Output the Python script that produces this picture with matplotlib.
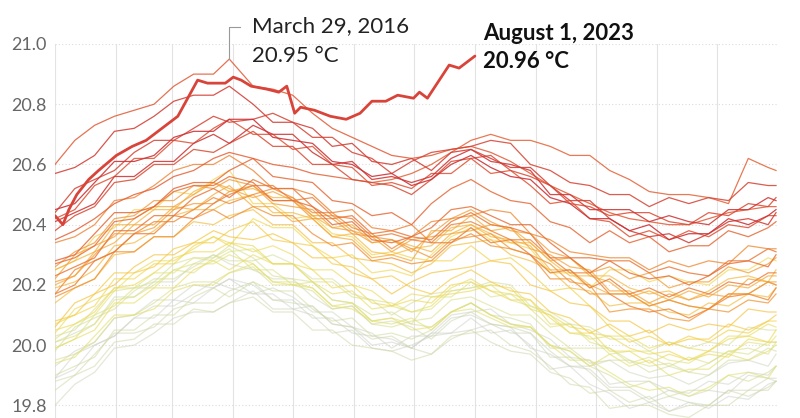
import matplotlib
matplotlib.use("Agg")
import matplotlib.pyplot as plt
from matplotlib.colors import LinearSegmentedColormap

plt.rcParams['font.family'] = ['Lato', 'DejaVu Sans']

# day of year of each sampled point of the thin yearly lines
days = [1, 11, 21, 31, 41, 51, 61, 71, 81, 89,
        101, 111, 121, 131, 141, 151, 161, 171, 181,
        191, 201, 211, 221, 231, 241, 251, 261, 271,
        281, 291, 301, 311, 321, 331, 341, 351, 361, 365]

t1979 = [19.89, 19.92, 20.00, 20.03, 20.09, 20.09, 20.15, 20.14, 20.19, 20.22, 20.17, 20.17, 20.12, 20.13, 20.07, 20.06, 20.00, 20.01, 19.99, 20.04, 20.04, 20.09, 20.04, 20.05, 20.00, 19.92, 19.93, 19.87, 19.84, 19.79, 19.81, 19.78, 19.81, 19.79, 19.83, 19.82, 19.87, 19.88]
t1980 = [19.93, 19.98, 20.01, 20.09, 20.10, 20.15, 20.15, 20.20, 20.19, 20.22, 20.20, 20.15, 20.15, 20.09, 20.09, 20.04, 20.03, 20.02, 19.99, 20.04, 20.10, 20.11, 20.12, 20.07, 20.05, 20.02, 19.96, 19.95, 19.87, 19.88, 19.88, 19.85, 19.84, 19.88, 19.87, 19.91, 19.90, 19.93]
t1981 = [19.89, 19.97, 20.00, 20.03, 20.09, 20.13, 20.13, 20.17, 20.21, 20.19, 20.17, 20.19, 20.16, 20.11, 20.11, 20.06, 20.04, 19.99, 20.03, 20.03, 20.04, 20.05, 20.07, 20.06, 19.99, 19.97, 19.93, 19.92, 19.86, 19.86, 19.82, 19.85, 19.83, 19.85, 19.84, 19.90, 19.89, 19.89]
t1982 = [19.80, 19.87, 19.91, 19.99, 20.00, 20.04, 20.09, 20.11, 20.11, 20.14, 20.18, 20.12, 20.12, 20.10, 20.04, 20.05, 19.99, 19.98, 20.00, 20.03, 20.09, 20.10, 20.07, 20.04, 20.04, 19.98, 19.93, 19.93, 19.95, 19.91, 19.89, 19.90, 19.87, 19.90, 19.94, 19.95, 19.93, 19.97]
t1983 = [20.01, 20.04, 20.07, 20.16, 20.16, 20.21, 20.21, 20.27, 20.30, 20.27, 20.25, 20.22, 20.22, 20.16, 20.12, 20.13, 20.07, 20.08, 20.06, 20.02, 20.08, 20.11, 20.07, 20.06, 20.04, 19.96, 19.96, 19.91, 19.85, 19.85, 19.81, 19.83, 19.81, 19.80, 19.85, 19.85, 19.89, 19.88]
t1984 = [19.88, 19.90, 19.97, 20.04, 20.04, 20.06, 20.12, 20.14, 20.14, 20.18, 20.21, 20.15, 20.14, 20.13, 20.07, 20.06, 20.02, 20.03, 19.99, 19.97, 20.02, 20.05, 20.01, 19.98, 19.97, 19.91, 19.89, 19.84, 19.85, 19.81, 19.83, 19.78, 19.80, 19.80, 19.85, 19.83, 19.86, 19.88]
t1985 = [19.85, 19.90, 19.93, 20.01, 20.02, 20.07, 20.07, 20.12, 20.11, 20.14, 20.16, 20.11, 20.11, 20.05, 20.05, 20.00, 19.99, 19.98, 19.95, 19.97, 20.03, 20.04, 20.05, 20.00, 19.98, 19.93, 19.87, 19.86, 19.79, 19.80, 19.80, 19.77, 19.76, 19.80, 19.80, 19.85, 19.85, 19.88]
t1986 = [19.90, 19.93, 19.96, 20.05, 20.05, 20.10, 20.10, 20.16, 20.19, 20.16, 20.21, 20.18, 20.18, 20.12, 20.08, 20.09, 20.03, 20.04, 20.02, 20.05, 20.11, 20.14, 20.10, 20.09, 20.07, 19.99, 19.99, 19.94, 19.95, 19.95, 19.91, 19.93, 19.91, 19.90, 19.95, 19.95, 19.99, 19.98]
t1987 = [19.98, 20.06, 20.09, 20.12, 20.18, 20.22, 20.22, 20.26, 20.30, 20.28, 20.28, 20.30, 20.27, 20.22, 20.22, 20.17, 20.15, 20.10, 20.14, 20.17, 20.18, 20.19, 20.21, 20.20, 20.13, 20.11, 20.07, 20.06, 20.02, 20.02, 19.98, 20.01, 19.99, 20.01, 20.00, 20.06, 20.05, 20.05]
t1988 = [20.03, 20.05, 20.12, 20.19, 20.19, 20.21, 20.27, 20.29, 20.29, 20.33, 20.29, 20.23, 20.22, 20.21, 20.15, 20.14, 20.10, 20.11, 20.07, 20.06, 20.11, 20.14, 20.10, 20.07, 20.06, 20.00, 19.98, 19.93, 19.90, 19.86, 19.88, 19.83, 19.85, 19.85, 19.90, 19.88, 19.91, 19.93]
t1989 = [19.95, 19.97, 20.01, 20.09, 20.10, 20.14, 20.19, 20.21, 20.21, 20.24, 20.26, 20.20, 20.20, 20.18, 20.12, 20.13, 20.07, 20.06, 20.08, 20.09, 20.15, 20.16, 20.13, 20.10, 20.10, 20.04, 19.99, 19.99, 19.99, 19.95, 19.93, 19.94, 19.91, 19.94, 19.98, 19.99, 19.97, 20.01]
t1990 = [19.99, 20.02, 20.10, 20.13, 20.19, 20.19, 20.25, 20.24, 20.29, 20.32, 20.25, 20.25, 20.20, 20.21, 20.15, 20.14, 20.08, 20.09, 20.07, 20.16, 20.16, 20.21, 20.16, 20.17, 20.12, 20.06, 20.07, 20.01, 19.99, 19.94, 19.96, 19.93, 19.96, 19.94, 19.98, 19.97, 20.01, 20.01]
t1991 = [20.02, 20.07, 20.10, 20.18, 20.19, 20.24, 20.24, 20.29, 20.28, 20.31, 20.32, 20.27, 20.27, 20.21, 20.21, 20.16, 20.15, 20.14, 20.11, 20.12, 20.18, 20.19, 20.20, 20.15, 20.13, 20.10, 20.04, 20.03, 19.97, 19.98, 19.98, 19.95, 19.94, 19.98, 19.97, 20.01, 20.00, 20.03]
t1992 = [20.01, 20.03, 20.07, 20.15, 20.16, 20.20, 20.25, 20.27, 20.27, 20.30, 20.27, 20.21, 20.21, 20.19, 20.13, 20.14, 20.08, 20.07, 20.09, 20.05, 20.11, 20.12, 20.09, 20.06, 20.06, 20.00, 19.95, 19.95, 19.91, 19.87, 19.85, 19.86, 19.83, 19.86, 19.90, 19.91, 19.89, 19.93]
t1993 = [19.94, 19.96, 20.03, 20.10, 20.10, 20.12, 20.18, 20.20, 20.20, 20.24, 20.27, 20.21, 20.20, 20.19, 20.13, 20.12, 20.08, 20.09, 20.05, 20.06, 20.11, 20.14, 20.10, 20.07, 20.06, 20.00, 19.98, 19.93, 19.97, 19.93, 19.95, 19.90, 19.92, 19.92, 19.97, 19.95, 19.98, 20.00]
t1994 = [19.99, 20.02, 20.05, 20.14, 20.14, 20.19, 20.19, 20.25, 20.28, 20.25, 20.30, 20.27, 20.27, 20.21, 20.17, 20.18, 20.12, 20.13, 20.11, 20.13, 20.19, 20.22, 20.18, 20.17, 20.15, 20.07, 20.07, 20.02, 20.03, 20.03, 19.99, 20.01, 19.99, 19.98, 20.03, 20.03, 20.07, 20.06]
t1995 = [20.04, 20.12, 20.15, 20.18, 20.24, 20.28, 20.28, 20.32, 20.36, 20.34, 20.31, 20.33, 20.30, 20.25, 20.25, 20.20, 20.18, 20.13, 20.17, 20.16, 20.17, 20.18, 20.20, 20.19, 20.12, 20.10, 20.06, 20.05, 19.98, 19.98, 19.94, 19.97, 19.95, 19.97, 19.96, 20.02, 20.01, 20.01]
t1996 = [20.05, 20.07, 20.11, 20.19, 20.20, 20.24, 20.29, 20.31, 20.31, 20.34, 20.33, 20.27, 20.27, 20.25, 20.19, 20.20, 20.14, 20.13, 20.15, 20.14, 20.20, 20.21, 20.18, 20.15, 20.15, 20.09, 20.04, 20.04, 20.03, 19.99, 19.97, 19.98, 19.95, 19.98, 20.02, 20.03, 20.01, 20.05]
t1997 = [20.07, 20.10, 20.13, 20.22, 20.22, 20.27, 20.27, 20.33, 20.36, 20.33, 20.42, 20.39, 20.39, 20.33, 20.29, 20.30, 20.24, 20.25, 20.23, 20.30, 20.36, 20.39, 20.35, 20.34, 20.32, 20.24, 20.24, 20.19, 20.25, 20.25, 20.21, 20.23, 20.21, 20.20, 20.25, 20.25, 20.29, 20.28]
t1998 = [20.25, 20.28, 20.36, 20.39, 20.45, 20.45, 20.51, 20.50, 20.55, 20.58, 20.47, 20.47, 20.42, 20.43, 20.37, 20.36, 20.30, 20.31, 20.29, 20.28, 20.28, 20.33, 20.28, 20.29, 20.24, 20.18, 20.19, 20.13, 20.06, 20.01, 20.03, 20.00, 20.03, 20.01, 20.05, 20.04, 20.08, 20.08]
t1999 = [20.08, 20.10, 20.17, 20.24, 20.24, 20.26, 20.32, 20.34, 20.34, 20.38, 20.41, 20.35, 20.34, 20.33, 20.27, 20.26, 20.22, 20.23, 20.19, 20.17, 20.22, 20.25, 20.21, 20.18, 20.17, 20.11, 20.09, 20.04, 20.07, 20.03, 20.05, 20.00, 20.02, 20.02, 20.07, 20.05, 20.08, 20.10]
t2000 = [20.06, 20.14, 20.17, 20.20, 20.26, 20.30, 20.30, 20.34, 20.38, 20.36, 20.35, 20.37, 20.34, 20.29, 20.29, 20.24, 20.22, 20.17, 20.21, 20.24, 20.25, 20.26, 20.28, 20.27, 20.20, 20.18, 20.14, 20.13, 20.08, 20.08, 20.04, 20.07, 20.05, 20.07, 20.06, 20.12, 20.11, 20.11]
t2001 = [20.14, 20.19, 20.22, 20.30, 20.31, 20.36, 20.36, 20.41, 20.40, 20.43, 20.45, 20.40, 20.40, 20.34, 20.34, 20.29, 20.28, 20.27, 20.24, 20.27, 20.33, 20.34, 20.35, 20.30, 20.28, 20.25, 20.19, 20.18, 20.13, 20.14, 20.14, 20.11, 20.10, 20.14, 20.13, 20.17, 20.16, 20.19]
t2002 = [20.19, 20.21, 20.25, 20.33, 20.34, 20.38, 20.43, 20.45, 20.45, 20.48, 20.50, 20.44, 20.44, 20.42, 20.36, 20.37, 20.31, 20.30, 20.32, 20.33, 20.39, 20.40, 20.37, 20.34, 20.34, 20.28, 20.23, 20.23, 20.23, 20.19, 20.17, 20.18, 20.15, 20.18, 20.22, 20.23, 20.21, 20.25]
t2003 = [20.25, 20.28, 20.31, 20.40, 20.40, 20.45, 20.45, 20.51, 20.54, 20.51, 20.52, 20.49, 20.49, 20.43, 20.39, 20.40, 20.34, 20.35, 20.33, 20.31, 20.37, 20.40, 20.36, 20.35, 20.33, 20.25, 20.25, 20.20, 20.17, 20.17, 20.13, 20.15, 20.13, 20.12, 20.17, 20.17, 20.21, 20.20]
t2004 = [20.20, 20.23, 20.31, 20.34, 20.40, 20.40, 20.46, 20.45, 20.50, 20.53, 20.46, 20.46, 20.41, 20.42, 20.36, 20.35, 20.29, 20.30, 20.28, 20.38, 20.38, 20.43, 20.38, 20.39, 20.34, 20.28, 20.29, 20.23, 20.21, 20.16, 20.18, 20.15, 20.18, 20.16, 20.20, 20.19, 20.23, 20.23]
t2005 = [20.22, 20.30, 20.33, 20.36, 20.42, 20.46, 20.46, 20.50, 20.54, 20.52, 20.49, 20.51, 20.48, 20.43, 20.43, 20.38, 20.36, 20.31, 20.35, 20.36, 20.37, 20.38, 20.40, 20.39, 20.32, 20.30, 20.26, 20.25, 20.18, 20.18, 20.14, 20.17, 20.15, 20.17, 20.16, 20.22, 20.21, 20.21]
t2006 = [20.21, 20.23, 20.30, 20.37, 20.37, 20.39, 20.45, 20.47, 20.47, 20.51, 20.53, 20.47, 20.46, 20.45, 20.39, 20.38, 20.34, 20.35, 20.31, 20.37, 20.42, 20.45, 20.41, 20.38, 20.37, 20.31, 20.29, 20.24, 20.26, 20.22, 20.24, 20.19, 20.21, 20.21, 20.26, 20.24, 20.27, 20.29]
t2007 = [20.26, 20.31, 20.34, 20.42, 20.43, 20.48, 20.48, 20.53, 20.52, 20.55, 20.53, 20.48, 20.48, 20.42, 20.42, 20.37, 20.36, 20.35, 20.32, 20.29, 20.35, 20.36, 20.37, 20.32, 20.30, 20.27, 20.21, 20.20, 20.11, 20.12, 20.12, 20.09, 20.08, 20.12, 20.11, 20.15, 20.14, 20.17]
t2008 = [20.16, 20.19, 20.22, 20.31, 20.31, 20.36, 20.36, 20.42, 20.45, 20.42, 20.46, 20.43, 20.43, 20.37, 20.33, 20.34, 20.28, 20.29, 20.27, 20.28, 20.34, 20.37, 20.33, 20.32, 20.30, 20.22, 20.22, 20.17, 20.17, 20.17, 20.13, 20.15, 20.13, 20.12, 20.17, 20.17, 20.21, 20.20]
t2009 = [20.17, 20.25, 20.28, 20.31, 20.37, 20.41, 20.41, 20.45, 20.49, 20.47, 20.50, 20.52, 20.49, 20.44, 20.44, 20.39, 20.37, 20.32, 20.36, 20.41, 20.42, 20.43, 20.45, 20.44, 20.37, 20.35, 20.31, 20.30, 20.29, 20.29, 20.25, 20.28, 20.26, 20.28, 20.27, 20.33, 20.32, 20.32]
t2010 = [20.34, 20.36, 20.40, 20.48, 20.49, 20.53, 20.58, 20.60, 20.60, 20.63, 20.58, 20.52, 20.52, 20.50, 20.44, 20.45, 20.39, 20.38, 20.40, 20.34, 20.40, 20.41, 20.38, 20.35, 20.35, 20.29, 20.24, 20.24, 20.17, 20.13, 20.11, 20.12, 20.09, 20.12, 20.16, 20.17, 20.15, 20.19]
t2011 = [20.17, 20.20, 20.28, 20.31, 20.37, 20.37, 20.43, 20.42, 20.47, 20.50, 20.53, 20.53, 20.48, 20.49, 20.43, 20.42, 20.36, 20.37, 20.35, 20.34, 20.34, 20.39, 20.34, 20.35, 20.30, 20.24, 20.25, 20.19, 20.22, 20.17, 20.19, 20.16, 20.19, 20.17, 20.21, 20.20, 20.24, 20.24]
t2012 = [20.23, 20.26, 20.29, 20.38, 20.38, 20.43, 20.43, 20.49, 20.52, 20.49, 20.55, 20.52, 20.52, 20.46, 20.42, 20.43, 20.37, 20.38, 20.36, 20.35, 20.41, 20.44, 20.40, 20.39, 20.37, 20.29, 20.29, 20.24, 20.28, 20.28, 20.24, 20.26, 20.24, 20.23, 20.28, 20.28, 20.32, 20.31]
t2013 = [20.27, 20.29, 20.33, 20.41, 20.42, 20.46, 20.51, 20.53, 20.53, 20.56, 20.54, 20.48, 20.48, 20.46, 20.40, 20.41, 20.35, 20.34, 20.36, 20.39, 20.45, 20.46, 20.43, 20.40, 20.40, 20.34, 20.29, 20.29, 20.28, 20.24, 20.22, 20.23, 20.20, 20.23, 20.27, 20.28, 20.26, 20.30]
t2014 = [20.28, 20.30, 20.37, 20.44, 20.44, 20.46, 20.52, 20.54, 20.54, 20.58, 20.62, 20.56, 20.55, 20.54, 20.48, 20.47, 20.43, 20.44, 20.40, 20.47, 20.52, 20.55, 20.51, 20.48, 20.47, 20.41, 20.39, 20.34, 20.38, 20.34, 20.36, 20.31, 20.33, 20.33, 20.38, 20.36, 20.39, 20.41]
t2015 = [20.35, 20.38, 20.42, 20.47, 20.50, 20.52, 20.56, 20.58, 20.62, 20.64, 20.62, 20.60, 20.59, 20.57, 20.56, 20.55, 20.54, 20.55, 20.57, 20.60, 20.64, 20.68, 20.70, 20.68, 20.68, 20.66, 20.63, 20.63, 20.58, 20.55, 20.51, 20.50, 20.50, 20.49, 20.47, 20.62, 20.59, 20.58]
t2016 = [20.60, 20.68, 20.73, 20.76, 20.78, 20.80, 20.86, 20.90, 20.90, 20.95, 20.86, 20.85, 20.83, 20.77, 20.72, 20.69, 20.66, 20.63, 20.62, 20.63, 20.65, 20.66, 20.64, 20.61, 20.57, 20.53, 20.50, 20.47, 20.44, 20.42, 20.41, 20.40, 20.40, 20.42, 20.44, 20.45, 20.46, 20.46]
t2017 = [20.42, 20.45, 20.53, 20.56, 20.62, 20.62, 20.68, 20.67, 20.72, 20.75, 20.70, 20.70, 20.65, 20.66, 20.60, 20.59, 20.53, 20.54, 20.52, 20.57, 20.57, 20.62, 20.57, 20.58, 20.53, 20.47, 20.48, 20.42, 20.41, 20.36, 20.38, 20.35, 20.38, 20.36, 20.40, 20.39, 20.43, 20.43]
t2018 = [20.38, 20.43, 20.46, 20.54, 20.55, 20.60, 20.60, 20.65, 20.64, 20.67, 20.71, 20.66, 20.66, 20.60, 20.60, 20.55, 20.54, 20.53, 20.50, 20.55, 20.61, 20.62, 20.63, 20.58, 20.56, 20.53, 20.47, 20.46, 20.43, 20.44, 20.44, 20.41, 20.40, 20.44, 20.43, 20.47, 20.46, 20.49]
t2019 = [20.44, 20.52, 20.55, 20.58, 20.64, 20.68, 20.68, 20.72, 20.76, 20.74, 20.75, 20.77, 20.74, 20.69, 20.69, 20.64, 20.62, 20.57, 20.61, 20.64, 20.65, 20.66, 20.68, 20.67, 20.60, 20.58, 20.54, 20.53, 20.50, 20.50, 20.46, 20.49, 20.47, 20.49, 20.48, 20.54, 20.53, 20.53]
t2020 = [20.57, 20.59, 20.63, 20.71, 20.72, 20.76, 20.81, 20.83, 20.83, 20.86, 20.80, 20.74, 20.74, 20.72, 20.66, 20.67, 20.61, 20.60, 20.62, 20.58, 20.64, 20.65, 20.62, 20.59, 20.59, 20.53, 20.48, 20.48, 20.42, 20.38, 20.36, 20.37, 20.34, 20.37, 20.41, 20.42, 20.40, 20.44]
t2021 = [20.41, 20.44, 20.47, 20.56, 20.56, 20.61, 20.61, 20.67, 20.70, 20.67, 20.73, 20.70, 20.70, 20.64, 20.60, 20.61, 20.55, 20.56, 20.54, 20.56, 20.62, 20.65, 20.61, 20.60, 20.58, 20.50, 20.50, 20.45, 20.45, 20.45, 20.41, 20.43, 20.41, 20.40, 20.45, 20.45, 20.49, 20.48]
t2022 = [20.45, 20.47, 20.54, 20.61, 20.61, 20.63, 20.69, 20.71, 20.71, 20.75, 20.75, 20.69, 20.68, 20.67, 20.61, 20.60, 20.56, 20.57, 20.53, 20.55, 20.60, 20.63, 20.59, 20.56, 20.55, 20.49, 20.47, 20.42, 20.42, 20.38, 20.40, 20.35, 20.37, 20.37, 20.42, 20.40, 20.43, 20.45]

past_years = list(range(1979, 2023))
past_series = [t1979, t1980, t1981, t1982, t1983, t1984, t1985, t1986, t1987,
               t1988, t1989, t1990, t1991, t1992, t1993, t1994, t1995, t1996,
               t1997, t1998, t1999, t2000, t2001, t2002, t2003, t2004, t2005,
               t2006, t2007, t2008, t2009, t2010, t2011, t2012, t2013, t2014,
               t2015, t2016, t2017, t2018, t2019, t2020, t2021, t2022]

# 2023, up to August 1
days_2023 = [1, 5, 8, 12, 18, 23, 32, 40, 47, 53, 63, 68, 73, 78, 82, 87, 91,
             95, 100, 108, 114, 118, 122, 125, 132, 140, 148, 155, 161, 168,
             174, 182, 185, 189, 194, 200, 205, 209, 213]
t2023 = [20.43, 20.40, 20.45, 20.50, 20.55, 20.58, 20.63, 20.66, 20.68, 20.71,
         20.76, 20.82, 20.88, 20.87, 20.87, 20.87, 20.89, 20.88, 20.86, 20.85,
         20.84, 20.86, 20.77, 20.79, 20.78, 20.76, 20.75, 20.77, 20.81, 20.81,
         20.83, 20.82, 20.84, 20.82, 20.87, 20.93, 20.92, 20.94, 20.96]

month_starts = [1, 32, 60, 91, 121, 152, 182, 213, 244, 274, 305, 335]
y_ticks = [19.8, 20.0, 20.2, 20.4, 20.6, 20.8, 21.0]

cmap = LinearSegmentedColormap.from_list(
    "sst", ["#c9cfc9", "#cfd9a6", "#dfe27a", "#f3d64a", "#f5ae3a",
            "#ee8432", "#e25a33", "#cc3338"])

fig = plt.figure(figsize=(8, 4.18), dpi=100)
ax = fig.add_axes([55 / 800, 0, 723 / 800, 374 / 418])

n = len(past_years) - 1
for i, (yr, vals) in enumerate(zip(past_years, past_series)):
    c = cmap(i / n)
    # older years are drawn fainter
    ax.plot(days, vals, color=c, lw=0.9, alpha=0.5 + 0.4 * i / n, zorder=2)

ax.plot(days_2023, t2023, color="#d9443a", lw=2.0, zorder=4,
        solid_capstyle="round")

ax.set_xlim(1, 366)
ax.set_ylim(19.758, 21.0)

for d in month_starts:
    ax.axvline(d, color="#e3e3e3", lw=0.8, zorder=0)
for v in y_ticks:
    ax.axhline(v, color="#dcdcdc", lw=0.8, ls=(0, (1, 2)), zorder=0)

ax.set_yticks(y_ticks)
ax.set_yticklabels([f"{v:.1f}" for v in y_ticks])
ax.set_xticks([])
ax.tick_params(axis="y", length=0, pad=6, labelsize=13, labelcolor="#666666")
for s in ax.spines.values():
    s.set_visible(False)

# annotations
ax.plot([89, 89, 94.5], [20.95, 21.056, 21.056], color="#999999", lw=0.8,
        clip_on=False, zorder=5)
ax.text(100.5, 21.040, "March 29, 2016", fontsize=16, color="#222222",
        va="baseline", clip_on=False)
ax.text(100.5, 20.940, "20.95 °C", fontsize=16, color="#222222",
        va="baseline", clip_on=False)
ax.text(217, 21.013, "August 1, 2023", fontsize=16, fontweight="bold",
        color="#111111", va="baseline", clip_on=False)
ax.text(217, 20.920, "20.96 °C", fontsize=16, fontweight="bold",
        color="#111111", va="baseline", clip_on=False)

fig.savefig("out.png", dpi=100)
